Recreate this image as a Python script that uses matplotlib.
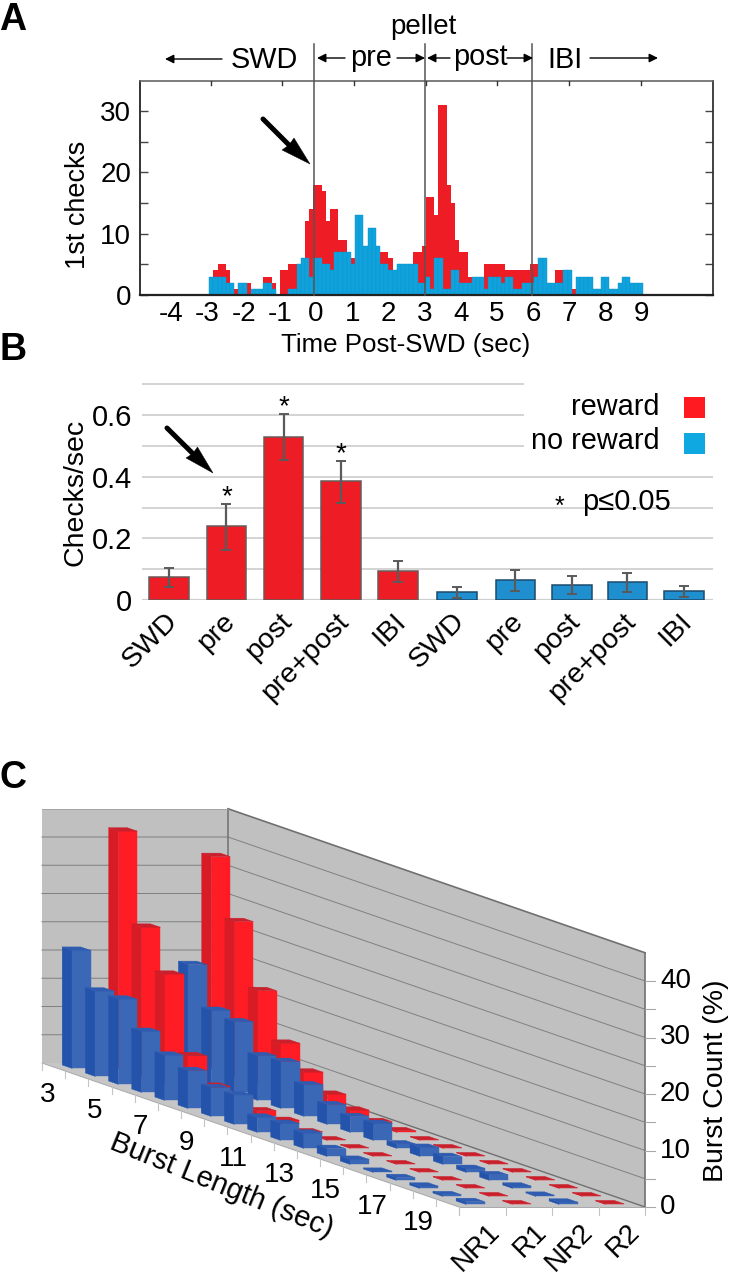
import numpy as np
import matplotlib
matplotlib.use("Agg")
import matplotlib.pyplot as plt
from matplotlib.patches import Polygon, Rectangle
from matplotlib.transforms import ScaledTranslation

plt.rcParams['font.family'] = ['Liberation Sans', 'DejaVu Sans']

# ---------- Panel A data (counts per bin) ----------
hist_red = [3,4,5,5,4,2,1,0,0,2,1,1,1,3,3,2,0,4,4,5,5,5,5,12,14,18,18,17,12,14,14,9,9,6,6,6,5,5,5,5,5,7,7,6,4,5,5,5,5,7,7,8,
            16,16,13,31,31,18,15,9,7,7,3,3,3,3,5,5,5,5,5,4,4,4,4,4,4,5,5,4,4,2,2,4,4,2,2,1,0,0,0,0,0,0,0,0,0,0,0,0,0,0,0,0]
hist_blue = [3,3,3,3,2,2,0,2,2,0,1,1,1,2,2,1,0,0,0,1,1,5,6,6,3,6,6,5,5,4,7,7,7,7,5,13,13,8,11,11,8,5,5,4,4,5,5,5,5,5,2,2,
             3,1,6,6,1,1,4,4,2,2,2,3,3,3,1,3,3,3,2,3,3,1,1,2,2,2,3,6,6,2,2,2,2,4,4,0,3,3,3,3,1,1,3,3,1,1,2,3,3,2,2,2]
a_ticks = [-4,-3,-2,-1,0,1,2,3,4,5,6,7,8,9]
a_boundaries = [-0.05, 3.0, 5.98]

# ---------- Panel B data ----------
b_labels = ['SWD','pre','post','pre+post','IBI','SWD','pre','post','pre+post','IBI']
b_slots = [0,1,2,3,4,5.03,6.05,7.04,8.01,9]
b_vals = [0.074,0.239,0.53,0.385,0.093,0.026,0.064,0.049,0.058,0.029]
b_err_hi = [0.103,0.312,0.604,0.451,0.127,0.042,0.097,0.077,0.089,0.046]
b_err_lo = [0.043,0.163,0.453,0.315,0.06,0.007,0.03,0.021,0.027,0.009]
b_sig = [1,2,3]

# ---------- Panel C data (burst count %) ----------
c_series = ['NR1','R1','NR2','R2']
c_lengths = list(range(3,21))
c_nr1 = [20.9,15.1,15.1,10.8,8.0,6.7,5.1,5.2,2.7,3.0,2.7,1.4,0.9,0.2,0.5,0.4,0.3,0.5]
c_r1  = [42.0,26.4,19.5,6.5,2.5,2.0,1.0,0.7,0.1,0.1,0.1,0.1,0.1,0.1,0.1,0.1,0.1,0.1]
c_nr2 = [15.0,19.8,13.1,12.5,7.9,8.3,5.6,3.5,2.8,3.0,0.8,1.6,1.4,0.7,1.0,0.4,0.2,0.4]
c_r2  = [37.5,27.4,16.6,8.7,5.0,2.5,1.1,0.5,0.3,0.1,0.1,0.1,0.1,0.1,0.1,0.1,0.1,0.1]
c_yticks = [0,10,20,30,40]

W, H = 735, 1280
fig = plt.figure(figsize=(W/100, H/100), dpi=100, facecolor='white')

def px_axes(l, t, r, b):
    return fig.add_axes([l/W, 1-b/H, (r-l)/W, (b-t)/H])

RED = '#ee1c25'
CYAN = '#10a2dc'

# ---------- Panel A ----------
axA = px_axes(139.5, 81, 713, 295)
PXS = 36.2
axA.set_xlim((139.5-316)/PXS, (713-316)/PXS)
axA.set_ylim(0, 34.9)
t0, wid = -2.95, 4.167/PXS
centers = t0 + wid*(np.arange(len(hist_red))+0.5)
axA.bar(centers, hist_red, width=wid, color=RED, linewidth=0)
axA.bar(centers, hist_blue, width=wid, color=CYAN, edgecolor='#0f94ca', linewidth=0.3)
for t in a_boundaries:
    axA.plot([t,t],[0,34.9+6], color='#555555', lw=1.1, clip_on=False, zorder=5)
axA.set_xticks(a_ticks)
axA.set_xticklabels([str(v) for v in a_ticks], fontsize=20)
axA.tick_params(axis='x', length=0, pad=4)
axA.set_yticks([0,10,20,30])
axA.set_yticks([5,15,25], minor=True)
axA.tick_params(axis='y', which='both', direction='in', length=6, width=1, color='#444444',
                labelsize=20, pad=6, right=True)
for t in [-2.9,-0.93,1.05,3.03,5.0,6.99,8.98]:
    axA.plot([t,t],[34.9,34.2], color='#333333', lw=1, zorder=4)
axA.spines['left'].set_color('#333333'); axA.spines['left'].set_linewidth(1.4)
axA.spines['bottom'].set_color('#222222'); axA.spines['bottom'].set_linewidth(1.6)
axA.spines['top'].set_color('#666666'); axA.spines['top'].set_linewidth(1.2)
axA.spines['right'].set_color('#333333'); axA.spines['right'].set_linewidth(1.3)
axA.set_xlabel('Time Post-SWD (sec)', fontsize=18.6)
axA.xaxis.set_label_coords((406-139.5)/573.5, -(333-295)/214)
axA.set_ylabel('1st checks', fontsize=19.5)
axA.yaxis.set_label_coords((91-139.5)/573.5, (295-205)/214)

# ---------- Panel B ----------
axB = px_axes(141.7, 370, 713, 600)
axB.set_xlim((141.7-169.2)/57.2, (713-169.2)/57.2)
axB.set_ylim(0, 230/308)
for g in np.arange(0.1, 0.71, 0.1):
    xmax = (522.7-141.7)/(713-141.7) if g > 0.45 else 1
    axB.axhline(g, xmin=0, xmax=xmax, color='#d3d3d3', lw=1.4, zorder=0)
b_cols = [RED if i < 5 else '#1f8fd0' for i in range(10)]
b_edge = ['#6a5a5a' if i < 5 else '#1d4a6c' for i in range(10)]
axB.bar(b_slots, b_vals, width=0.69, color=b_cols, edgecolor=b_edge, linewidth=1.1, zorder=2)
axB.errorbar(b_slots, b_vals,
             yerr=[np.array(b_vals)-np.array(b_err_lo), np.array(b_err_hi)-np.array(b_vals)],
             fmt='none', ecolor='#5a5a5a', elinewidth=1.6, capsize=3.5, capthick=1.4, zorder=3)
for i in b_sig:
    axB.text(b_slots[i], b_err_hi[i]+0.005, '*', ha='center', va='center', fontsize=20,
             transform=axB.transData + ScaledTranslation(0, 0.05, fig.dpi_scale_trans))
axB.axhline(0, color='#cfcfcf', lw=1.6, zorder=1)
for s in axB.spines.values():
    s.set_visible(False)
axB.set_yticks([0,0.2,0.4,0.6])
axB.set_yticklabels(['0','0.2','0.4','0.6'], fontsize=21)
axB.tick_params(axis='y', length=0, pad=7)
axB.set_xticks(b_slots)
axB.set_xticklabels(b_labels, fontsize=20.5, rotation=45, ha='right', rotation_mode='anchor')
axB.tick_params(axis='x', length=0, pad=6)
off = ScaledTranslation(-5/100, 0, fig.dpi_scale_trans)
for lab in axB.get_xticklabels():
    lab.set_transform(lab.get_transform() + off)
axB.set_ylabel('Checks/sec', fontsize=20.5)
axB.yaxis.set_label_coords((89-141.7)/(713-141.7), (600-492)/230)

# ---------- overlay in page pixels ----------
ov = fig.add_axes([0,0,1,1], facecolor='none')
ov.set_xlim(0, W); ov.set_ylim(H, 0); ov.axis('off')

for s, x, y in [('A',13,20),('B',13,350),('C',13,778)]:
    ov.text(x, y, s, fontsize=27, fontweight='bold', ha='center', va='center')

ov.text(423, 27, 'pellet', fontsize=20, ha='center', va='center')
for s, x, y in [('SWD',264.5,60),('pre',371,58),('post',480,57),('IBI',565,60)]:
    ov.text(x, y, s, fontsize=20.8, ha='center', va='center')
for x0, x1, y in [(222,165,59),(345,317,58),(397,425,58),(450,427,58),(507,533,58),(590,658,58)]:
    ov.annotate('', xy=(x1,y), xytext=(x0,y),
                arrowprops=dict(arrowstyle='-|>', color='black', lw=1, mutation_scale=13, shrinkA=0, shrinkB=0))
# thick call-out arrows: tail, tip, then the two barbs
for tail, tip, b1, b2 in [((263,119),(310,164),(294,138),(282,150)),
                          ((167,428),(213,473),(197.5,447),(186,458))]:
    mid = ((b1[0]+b2[0])/2+1, (b1[1]+b2[1])/2+1)
    ov.plot([tail[0],mid[0]],[tail[1],mid[1]], color='black', lw=3.6, solid_capstyle='round', zorder=6)
    ov.add_patch(Polygon([tip,b1,mid,b2], closed=True, fc='black', ec='black', lw=0.3, zorder=6))

# Legend of panel B
ov.text(660, 407, 'reward', fontsize=20.8, ha='right', va='center')
ov.text(660, 441, 'no reward', fontsize=20.8, ha='right', va='center')
ov.add_patch(Rectangle((684,397), 21, 21, color='#ff1a22', lw=0))
ov.add_patch(Rectangle((684,433), 21, 21, color='#0fa8e0', lw=0))
ov.text(559, 507, '*', fontsize=18, ha='center', va='center')
ov.text(582, 502, 'p≤0.05', fontsize=21, ha='left', va='center')

# ---------- Panel C: oblique projection ----------
O = np.array([42.0, 1063.0])      # floor corner at first length, first series
DL = np.array([23.17, 8.0])       # one burst-length step
DS = np.array([46.5, 0.0])        # one series step
UNIT = 5.65                       # page pixels per percent

def proj(a, b, v=0.0):
    p = O + a*DL + b*DS
    return (p[0], p[1]-v*UNIT)

nL, nS = len(c_lengths), len(c_series)
WALLG, FLOORG, GRID = '#c0c0c0', '#c6c6c6', '#808080'
ov.add_patch(Polygon([proj(0,0),proj(nL,0),proj(nL,nS),proj(0,nS)], closed=True, fc=FLOORG, ec='none', zorder=1))
ov.add_patch(Polygon([proj(0,0),proj(0,nS),proj(0,nS,45),proj(0,0,45)], closed=True, fc=WALLG, ec='none', zorder=1))
ov.add_patch(Polygon([proj(0,nS),proj(nL,nS),proj(nL,nS,45),proj(0,nS,45)], closed=True, fc=WALLG, ec='none', zorder=1))
for v in np.arange(5, 45, 5):
    pts = [proj(0,0,v),proj(0,nS,v),proj(nL,nS,v)]
    ov.plot(*zip(*pts), color=GRID, lw=0.7, zorder=2)
ov.plot(*zip(proj(0,nS,45),proj(nL,nS,45)), color='#707070', lw=1.2, zorder=2)
ov.plot(*zip(proj(0,nS,0),proj(0,nS,45)), color='#707070', lw=1.1, zorder=2)
ov.plot(*zip(proj(0,0,45),proj(0,nS,45)), color='#a0a0a0', lw=0.6, zorder=2)
ov.plot(*zip(proj(0,nS,0),proj(nL,nS,0)), color='#707070', lw=1.0, zorder=2)
ov.plot(*zip(proj(nL,nS,0),proj(nL,nS,45)), color='#707070', lw=1.2, zorder=2)
ov.plot(*zip(proj(0,0),proj(nL,0)), color='#a8a8a8', lw=0.7, zorder=2)
ov.plot(*zip(proj(nL,0),proj(nL,nS)), color='#a8a8a8', lw=0.7, zorder=2)

# bar faces
STYLE = {'b': ('#2353aa', '#3b68b6', '#2f5cb0'), 'r': ('#d81c26', '#ff1c24', '#c9202c')}
a0, a1, b0, b1 = 0.25, 0.68, 0.31, 0.71
z = 3
for j, (vals, key) in reversed(list(enumerate([(c_nr1,'b'),(c_r1,'r'),(c_nr2,'b'),(c_r2,'r')]))):
    side, front, top = STYLE[key]
    for i, v in enumerate(vals):
        A0, A1, B0, B1 = i+a0, i+a1, j+b0, j+b1
        ov.add_patch(Polygon([proj(A0,B0),proj(A1,B0),proj(A1,B0,v),proj(A0,B0,v)], closed=True, fc=side, ec=side, lw=0.3, zorder=z))
        ov.add_patch(Polygon([proj(A1,B0),proj(A1,B1),proj(A1,B1,v),proj(A1,B0,v)], closed=True, fc=front, ec=front, lw=0.3, zorder=z))
        ov.add_patch(Polygon([proj(A0,B0,v),proj(A0,B1,v),proj(A1,B1,v),proj(A1,B0,v)], closed=True, fc=top, ec=top, lw=0.3, zorder=z))
        z += 0.001

# ticks + tick labels of panel C
for i in range(nL+1):
    x, y = proj(i, 0)
    ov.plot([x,x],[y,y+7], color='#c4c4c4', lw=0.8, zorder=2)
for i, L in enumerate(c_lengths):
    if L % 2 == 1:
        x, y = proj(i+0.25, 0)
        ov.text(x, y+30, str(L), fontsize=20, ha='center', va='center')
for j in range(nS+1):
    x, y = proj(nL, j)
    ov.plot([x,x],[y,y+8], color='#c4c4c4', lw=0.8, zorder=2)
for j, s in enumerate(c_series):
    x, y = proj(nL, j+0.5)
    ov.text(x+14, y+21, s, fontsize=20, rotation=45, ha='right', va='center', rotation_mode='anchor')
for v in np.arange(0, 45, 5):
    x, y = proj(nL, nS, v)
    ov.plot([x,x+10],[y,y], color='#a8a8a8', lw=0.8, zorder=2)
for v in c_yticks:
    x, y = proj(nL, nS, v)
    if v == 0:
        ov.text(660, y, str(v), fontsize=20, ha='left', va='center')
    else:
        ov.text(691, y, str(v), fontsize=20, ha='right', va='center')
ov.text(716, 1081, 'Burst Count (%)', fontsize=20.5, rotation=90, ha='center', va='center')
ov.text(222, 1186, 'Burst Length (sec)', fontsize=21, rotation=-22, ha='center', va='center', rotation_mode='anchor')

fig.savefig('out.png', dpi=100, facecolor='white')
